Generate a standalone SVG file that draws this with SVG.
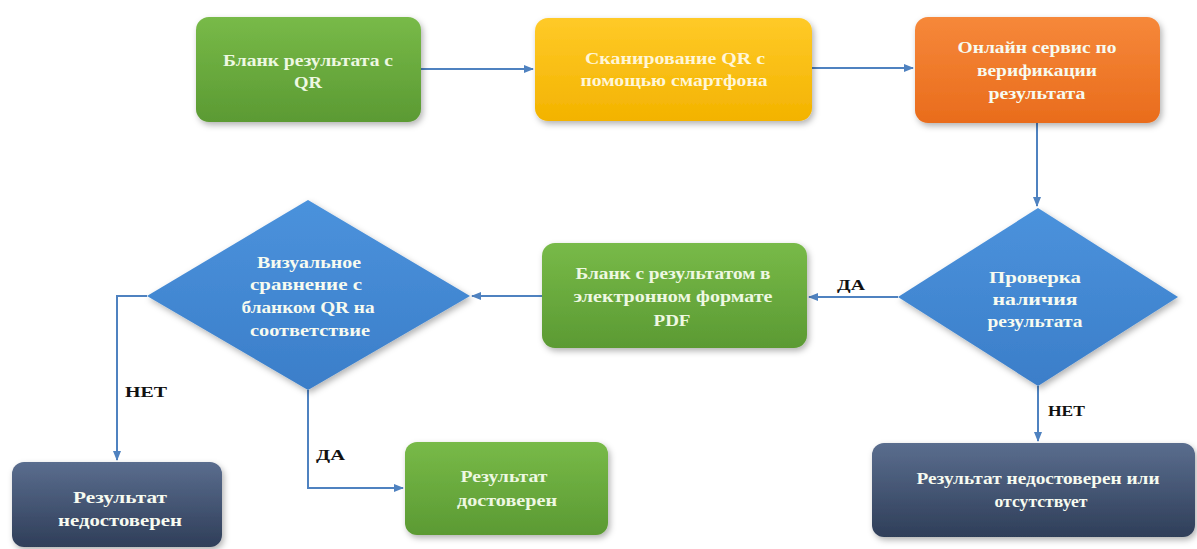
<svg xmlns="http://www.w3.org/2000/svg" width="1197" height="549" viewBox="0 0 1197 549">
<style>
.t{font-family:"Liberation Serif","Times New Roman",serif;font-weight:bold;font-size:17px;fill:#f7fbf0;text-anchor:middle}
.ty{fill:#fff6d8}
.tg{fill:#eef8e2}
.lbl{font-family:"Liberation Serif","Times New Roman",serif;font-weight:bold;font-size:15px;fill:#111}
.c{fill:none;stroke:#4f82c0;stroke-width:2}
</style>
<defs>
<linearGradient id="gGreen" x1="0" y1="0" x2="0" y2="1"><stop offset="0" stop-color="#78ba48"/><stop offset="1" stop-color="#5b9a33"/></linearGradient>
<linearGradient id="gYellow" x1="0" y1="0" x2="0" y2="1"><stop offset="0" stop-color="#ffca28"/><stop offset="1" stop-color="#f3b300"/></linearGradient>
<linearGradient id="gOrange" x1="0" y1="0" x2="0" y2="1"><stop offset="0" stop-color="#f6883a"/><stop offset="1" stop-color="#e96c1c"/></linearGradient>
<linearGradient id="gBlue" x1="0" y1="0" x2="0" y2="1"><stop offset="0" stop-color="#4b92dc"/><stop offset="1" stop-color="#3b7ec9"/></linearGradient>
<linearGradient id="gDark" x1="0" y1="0" x2="0" y2="1"><stop offset="0" stop-color="#5a6d8e"/><stop offset="1" stop-color="#2f3e59"/></linearGradient>
<filter id="sh" x="-10%" y="-10%" width="125%" height="130%"><feDropShadow dx="2" dy="3" stdDeviation="3" flood-color="#000" flood-opacity="0.3"/></filter>
<marker id="arr" viewBox="0 0 10 10" refX="9" refY="5" markerWidth="5" markerHeight="5" orient="auto"><path d="M0,1 L10,5 L0,9 z" fill="#4f82c0"/></marker>
</defs>
<rect width="1197" height="549" fill="#ffffff"/>

<g id="connectors">
<path class="c" d="M421,69 H533" marker-end="url(#arr)"/>
<path class="c" d="M812,68 H913" marker-end="url(#arr)"/>
<path class="c" d="M1037,122 V206" marker-end="url(#arr)"/>
<path class="c" d="M898,297 H809" marker-end="url(#arr)"/>
<path class="c" d="M1038,386 V441" marker-end="url(#arr)"/>
<path class="c" d="M542,296 H472" marker-end="url(#arr)"/>
<path class="c" d="M147,296 H117 V460" marker-end="url(#arr)"/>
<path class="c" d="M308,390 V488 H403" marker-end="url(#arr)"/>
<text class="lbl" x="837" y="290" textLength="28" lengthAdjust="spacingAndGlyphs">ДА</text>
<text class="lbl" x="1048" y="416" textLength="37" lengthAdjust="spacingAndGlyphs">НЕТ</text>
<text class="lbl" x="125" y="397" textLength="42" lengthAdjust="spacingAndGlyphs">НЕТ</text>
<text class="lbl" x="316" y="460" textLength="29" lengthAdjust="spacingAndGlyphs">ДА</text>
</g>

<g id="n1">
<rect x="196" y="17" width="225" height="105" rx="13" fill="url(#gGreen)" filter="url(#sh)"/>
<text class="t tg" x="308" y="66" textLength="170" lengthAdjust="spacingAndGlyphs">Бланк результата с</text>
<text class="t tg" x="308" y="88" textLength="28" lengthAdjust="spacingAndGlyphs">QR</text>
</g>

<g id="n2">
<rect x="535" y="18" width="277" height="103" rx="13" fill="url(#gYellow)" filter="url(#sh)"/>
<text class="t ty" x="675" y="64" textLength="180" lengthAdjust="spacingAndGlyphs">Сканирование QR с</text>
<text class="t ty" x="674" y="86" textLength="187" lengthAdjust="spacingAndGlyphs">помощью смартфона</text>
</g>

<g id="n3">
<rect x="915" y="17" width="245" height="106" rx="13" fill="url(#gOrange)" filter="url(#sh)"/>
<text class="t" x="1037" y="53" textLength="159" lengthAdjust="spacingAndGlyphs">Онлайн сервис по</text>
<text class="t" x="1037" y="76" textLength="120" lengthAdjust="spacingAndGlyphs">верификации</text>
<text class="t" x="1037" y="99" textLength="97" lengthAdjust="spacingAndGlyphs">результата</text>
</g>

<g id="n4">
<polygon points="1038,208 1178,297 1038,386 898,297" fill="url(#gBlue)" filter="url(#sh)"/>
<text class="t" x="1035" y="283" textLength="92" lengthAdjust="spacingAndGlyphs">Проверка</text>
<text class="t" x="1035" y="305" textLength="85" lengthAdjust="spacingAndGlyphs">наличия</text>
<text class="t" x="1035" y="327" textLength="95" lengthAdjust="spacingAndGlyphs">результата</text>
</g>

<g id="n5">
<rect x="542" y="243" width="265" height="105" rx="13" fill="url(#gGreen)" filter="url(#sh)"/>
<text class="t tg" x="673" y="279" textLength="195" lengthAdjust="spacingAndGlyphs">Бланк с результатом в</text>
<text class="t tg" x="673" y="302" textLength="199" lengthAdjust="spacingAndGlyphs">электронном формате</text>
<text class="t tg" x="672" y="326" textLength="37" lengthAdjust="spacingAndGlyphs">PDF</text>
</g>

<g id="n6">
<polygon points="308,200 470,296 308,390 147,296" fill="url(#gBlue)" filter="url(#sh)"/>
<text class="t" x="309" y="268" textLength="104" lengthAdjust="spacingAndGlyphs">Визуальное</text>
<text class="t" x="306" y="290" textLength="112" lengthAdjust="spacingAndGlyphs">сравнение с</text>
<text class="t" x="308" y="313" textLength="133" lengthAdjust="spacingAndGlyphs">бланком QR на</text>
<text class="t" x="310" y="336" textLength="120" lengthAdjust="spacingAndGlyphs">соответствие</text>
</g>

<g id="n7">
<rect x="12" y="462" width="210" height="85" rx="12" fill="url(#gDark)" filter="url(#sh)"/>
<text class="t" x="120" y="503" textLength="94" lengthAdjust="spacingAndGlyphs">Результат</text>
<text class="t" x="120" y="526" textLength="124" lengthAdjust="spacingAndGlyphs">недостоверен</text>
</g>

<g id="n8">
<rect x="405" y="442" width="203" height="93" rx="12" fill="url(#gGreen)" filter="url(#sh)"/>
<text class="t tg" x="504" y="482" textLength="87" lengthAdjust="spacingAndGlyphs">Результат</text>
<text class="t tg" x="507" y="506" textLength="100" lengthAdjust="spacingAndGlyphs">достоверен</text>
</g>

<g id="n9">
<rect x="872" y="443" width="323" height="94" rx="12" fill="url(#gDark)" filter="url(#sh)"/>
<text class="t" x="1038" y="484" textLength="243" lengthAdjust="spacingAndGlyphs">Результат недостоверен или</text>
<text class="t" x="1041" y="507" textLength="93" lengthAdjust="spacingAndGlyphs">отсутствует</text>
</g>
</svg>
